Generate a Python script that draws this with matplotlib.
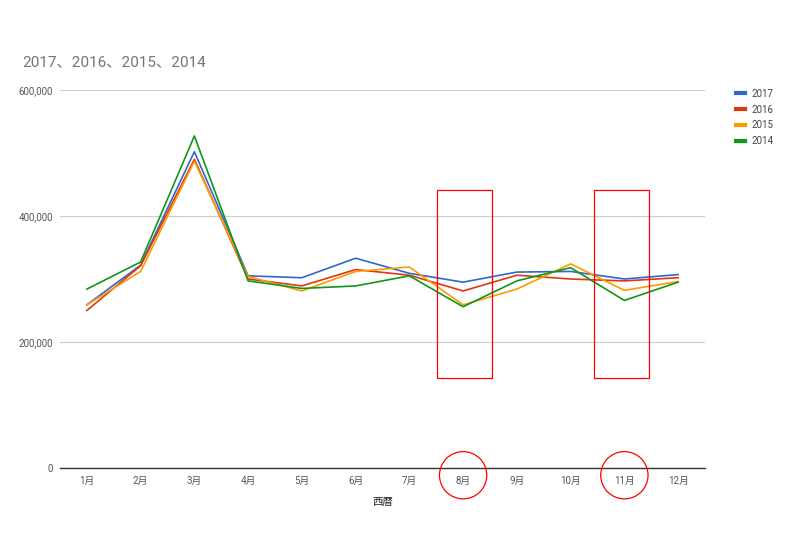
import matplotlib.pyplot as plt
from matplotlib.patches import Rectangle, Ellipse
from matplotlib.lines import Line2D

plt.rcParams['font.family'] = ['Roboto', 'Noto Sans CJK JP', 'DejaVu Sans']

months = ['1月', '2月', '3月', '4月', '5月', '6月', '7月', '8月', '9月', '10月', '11月', '12月']
y2017 = [259000, 322000, 502000, 305000, 302000, 333000, 309000, 295000, 311000, 312000, 300000, 307000]
y2016 = [250000, 321000, 490000, 300000, 289000, 315000, 306000, 281000, 306000, 300000, 297000, 302000]
y2015 = [259000, 312000, 487000, 304000, 281000, 312000, 319000, 259000, 284000, 324000, 282000, 296000]
y2014 = [284000, 327000, 527000, 297000, 285000, 289000, 305000, 256000, 297000, 318000, 266000, 295000]
series = [('2017', y2017, '#3366cc'), ('2016', y2016, '#dc3912'),
          ('2015', y2015, '#ff9900'), ('2014', y2014, '#109618')]

fig = plt.figure(figsize=(7.9, 5.5), dpi=100)
ax = fig.add_axes([60 / 790, 1 - 468 / 550, 645 / 790, 378 / 550])

x = list(range(1, 13))
for name, vals, col in series:
    ax.plot(x, vals, color=col, lw=1.2, label=name, zorder=3)

ax.set_xlim(0.5, 12.5)
ax.set_ylim(0, 600000)
ax.set_yticks([0, 200000, 400000, 600000])
ax.set_yticklabels(['0', '200,000', '400,000', '600,000'])
ax.set_xticks(x)
ax.set_xticklabels(months)
ax.tick_params(axis='both', length=0, labelsize=7, colors='#555555')
ax.tick_params(axis='x', pad=6)
ax.tick_params(axis='y', pad=5)
for s in ['top', 'right', 'left']:
    ax.spines[s].set_visible(False)
ax.spines['bottom'].set_color('#333333')
ax.spines['bottom'].set_linewidth(1.0)
ax.grid(axis='y', color='#cccccc', lw=0.8)
ax.set_axisbelow(True)
ax.set_xlabel('西暦', fontsize=7.5, color='#222222', labelpad=8)

fig.text(22 / 790, 1 - 62 / 550, '2017、2016、2015、2014', fontsize=11,
         color='#757575', va='center', ha='left')

handles = [Line2D([], [], color=c, lw=3) for _, _, c in series]
fig.legend(handles, [n for n, _, _ in series], loc='upper left',
           bbox_to_anchor=(727 / 790, 1 - 80 / 550), frameon=False,
           fontsize=7, handlelength=1.0, handletextpad=0.6, labelspacing=0.6,
           labelcolor='#444444')

# red annotation boxes and circles
for cx, left in [(8, 7.52), (11, 10.44)]:
    ax.add_patch(Rectangle((left, 143000), 1.02, 298000, fill=False,
                           edgecolor='#ff0000', lw=0.9, clip_on=False, zorder=5))
    ax.add_patch(Ellipse((cx, -11500), 0.88, 75000, fill=False,
                         edgecolor='#ff0000', lw=0.9, clip_on=False, zorder=5))

fig.savefig('out.png', dpi=100)
